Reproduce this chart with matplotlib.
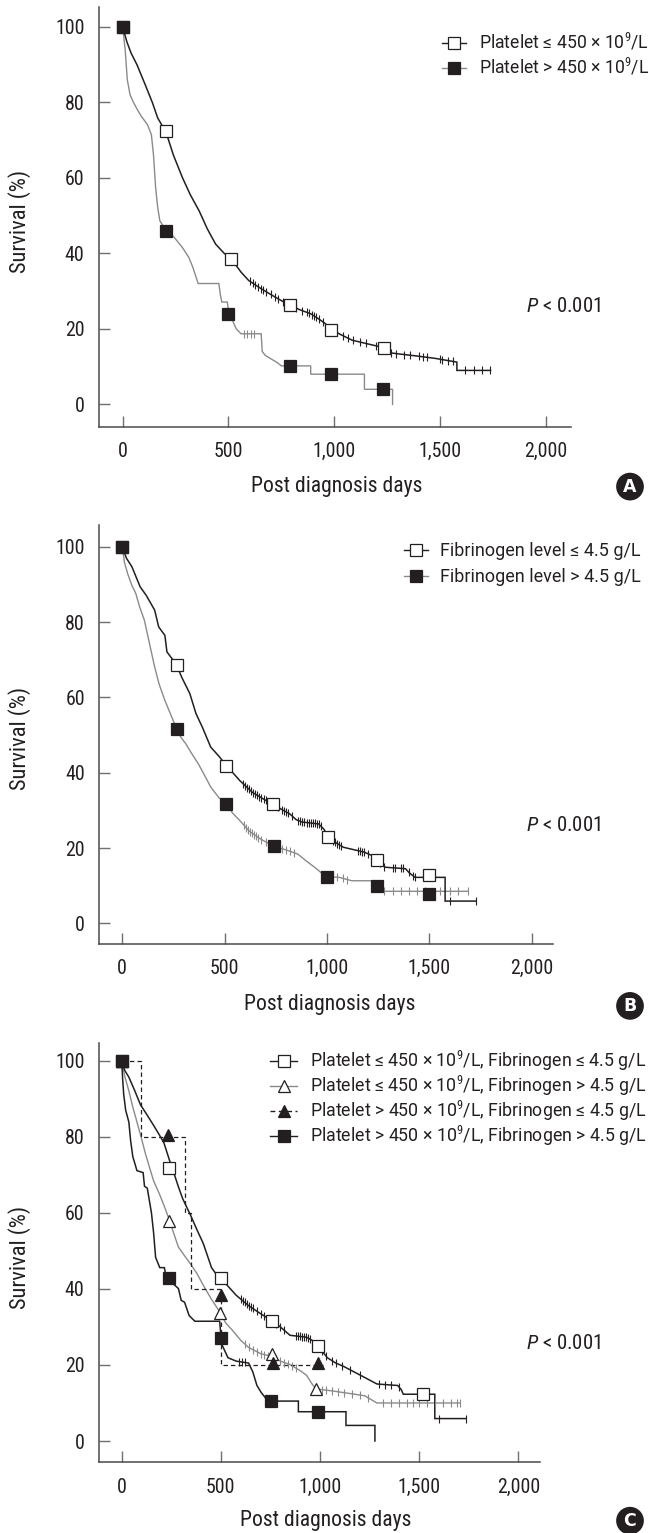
import os
import numpy as np
import matplotlib
matplotlib.use('Agg')
import matplotlib.pyplot as plt
from matplotlib import font_manager
from matplotlib.font_manager import FontProperties
from matplotlib.lines import Line2D

# ---------------- data ----------------
x_ticks = [0, 500, 1000, 1500, 2000]
x_ticklabels = ['0', '500', '1,000', '1,500', '2,000']
y_ticks = [0, 20, 40, 60, 80, 100]
y_ticklabels = ['0', '20', '40', '60', '80', '100']

# Panel A: platelet count
a_low_days = [0, 20, 40, 68, 107, 140, 166, 205, 240, 283, 320, 362, 400, 440, 480, 514, 560, 596,
              650, 694, 740, 791, 840, 889, 930, 958, 983, 1030, 1085, 1160, 1237, 1260, 1300, 1378,
              1476, 1580, 1580, 1739]
a_low_surv = [100, 96, 93, 89.9, 84.6, 80, 75.8, 72.1, 66, 60.0, 55.5, 51.2, 46.5, 42.4, 40.0, 38.5,
              35, 32.8, 30.8, 29.3, 27.8, 26.2, 25, 24.0, 22.5, 21.4, 20.0, 18.5, 17.0, 16.0, 15.0,
              13.7, 13.4, 12.9, 12.2, 11.2, 9.0, 9.0]
a_low_mk_days = [0, 205, 514, 791, 983, 1237]
a_low_mk_surv = [100, 72.3, 38.6, 26.3, 19.6, 15.0]
a_low_cens = [600, 615, 625, 640, 655, 665, 680, 700, 720, 735, 760, 800, 820, 850, 870, 880, 895,
              905, 915, 930, 945, 1010, 1040, 1065, 1090, 1120, 1150, 1200, 1270, 1290, 1330, 1360,
              1400, 1420, 1440, 1500, 1510, 1540, 1560, 1620, 1660, 1700, 1735]

a_high_days = [0, 12, 22, 35, 49, 70, 88, 117, 136, 146, 156, 166, 176, 200, 244, 283, 313, 332, 357,
               455, 462, 469, 495, 500, 515, 525, 537, 560, 655, 660, 674, 700, 733, 750, 889, 889,
               1143, 1143, 1276, 1276]
a_high_surv = [100, 94, 86, 82, 80.2, 78, 76.3, 74.1, 71.4, 66, 57.4, 52.1, 48.6, 46.5, 44.2, 41.5,
               38.9, 36.3, 32, 32, 29, 27.1, 27.1, 25, 23, 21.5, 20.0, 18.7, 18.7, 14, 13, 12.1, 11.0,
               10.2, 10.2, 8.0, 8.0, 4.0, 4.0, 0]
a_high_mk_days = [0, 207, 500, 790, 983, 1230]
a_high_mk_surv = [100, 46.0, 24.0, 10.3, 8.1, 4.1]
a_high_cens = [575, 590, 605, 620]

a_labels = ['Platelet ≤ 450 × 10$^9$/L', 'Platelet > 450 × 10$^9$/L']

# Panel B: fibrinogen level
b_low_days = [0, 20, 47, 87, 117, 158, 178, 208, 218, 240, 266, 290, 330, 360, 391, 432, 470, 509,
              574, 635, 690, 736, 780, 817, 850, 878, 959, 985, 1005, 1040, 1080, 1182, 1220, 1243,
              1283, 1384, 1400, 1430, 1577, 1577, 1729]
b_low_surv = [100, 97, 94.7, 89.4, 87.1, 83.2, 78.7, 76.5, 72.1, 70.5, 68.5, 65.4, 61.0, 55.7, 52.1,
              46.8, 44.5, 41.9, 37.9, 34.8, 33, 31.6, 30.2, 29.1, 27.5, 26.9, 26.4, 25, 23.0, 21.5,
              20.2, 18.9, 18, 16.9, 14.9, 14.5, 13.5, 12.2, 12.2, 5.9, 5.9]
b_low_mk_days = [0, 266, 509, 736, 1005, 1243, 1496]
b_low_mk_surv = [100, 68.5, 41.9, 31.6, 23.0, 16.9, 12.7]
b_low_cens = [590, 600, 610, 620, 630, 640, 650, 660, 670, 680, 690, 700, 760, 780, 790, 800, 810,
              830, 860, 870, 880, 890, 900, 910, 920, 930, 940, 950, 960, 970, 1030, 1040, 1050,
              1060, 1070, 1150, 1160, 1170, 1180, 1200, 1260, 1280, 1320, 1330, 1360, 1370, 1400,
              1420, 1430, 1600, 1729]

b_high_days = [0, 10, 26, 45, 66, 85, 108, 130, 158, 180, 208, 240, 265, 285, 310, 340, 371, 400,
               432, 470, 509, 540, 574, 620, 675, 742, 800, 857, 900, 939, 970, 1000, 1060, 1121,
               1240, 1263, 1688]
b_high_surv = [100, 96, 92.9, 90, 87.6, 84, 80.5, 75, 68.1, 63.5, 59.2, 55, 51.7, 49.5, 47.7, 45,
               42.4, 39.5, 36.2, 33.5, 31.6, 29.2, 27.3, 24.5, 22.4, 20.4, 19.5, 18.4, 16.5, 14.9,
               13.5, 12.4, 12.2, 11.3, 11.3, 8.5, 8.5]
b_high_mk_days = [0, 265, 509, 742, 1000, 1243, 1500]
b_high_mk_surv = [100, 51.7, 31.6, 20.4, 12.4, 10.0, 7.8]
b_high_cens = [595, 605, 615, 625, 635, 645, 655, 665, 680, 700, 720, 740, 760, 780, 800, 820, 840,
               1020, 1050, 1080, 1100, 1280, 1320, 1360, 1400, 1440, 1480, 1550, 1600, 1640, 1688]

b_labels = ['Fibrinogen level ≤ 4.5 g/L', 'Fibrinogen level > 4.5 g/L']

# Panel C: combined groups
c1_days = [0, 15, 36, 66, 95, 125, 161, 190, 213, 240, 265, 285, 307, 348, 380, 411, 453, 475, 500,
           540, 578, 640, 700, 759, 800, 849, 932, 960, 989, 1037, 1080, 1120, 1160, 1204, 1287,
           1392, 1410, 1420, 1579, 1579, 1736]
c1_surv = [100, 97.5, 95.7, 92.1, 88.4, 86, 83.0, 80.5, 78.4, 74, 70.2, 67, 63.8, 59.3, 55.5, 52.0,
           45.6, 44, 42.8, 40.5, 38.3, 35.6, 33.5, 31.6, 30, 27.8, 27.3, 26.5, 25.1, 21.9, 20.5,
           19.6, 18.5, 17.3, 15.0, 14.6, 13.5, 12.3, 12.3, 5.9, 5.9]
c1_mk_days = [0, 238, 500, 759, 989, 1517]
c1_mk_surv = [100, 71.9, 42.8, 31.6, 25.1, 12.3]
c1_cens = [600, 610, 620, 630, 640, 650, 660, 680, 700, 720, 780, 800, 820, 880, 890, 900, 910, 920,
           930, 940, 950, 1010, 1030, 1060, 1080, 1110, 1150, 1200, 1300, 1330, 1360, 1400, 1600,
           1736]

c2_days = [0, 15, 36, 55, 77, 100, 119, 140, 161, 190, 213, 238, 260, 286, 320, 348, 380, 411, 450,
           494, 525, 557, 600, 640, 700, 759, 800, 849, 900, 932, 960, 980, 1058, 1150, 1225, 1287,
           1705]
c2_surv = [100, 96, 92.1, 88, 83.9, 79.5, 75.7, 72, 68.4, 65, 62.0, 58.5, 55, 51.0, 48.5, 46.5, 44,
           41.0, 37.5, 34, 31, 29.2, 26.5, 24.6, 23, 22.2, 21, 20.1, 18.5, 17.3, 15, 13.7, 13.2,
           12.5, 11.9, 10.0, 10.0]
c2_mk_days = [0, 238, 494, 759, 980]
c2_mk_surv = [100, 57.9, 33.7, 22.8, 13.7]
c2_cens = [620, 640, 660, 680, 700, 720, 740, 760, 780, 800, 820, 840, 860, 880, 1010, 1030, 1060,
           1090, 1120, 1160, 1200, 1240, 1320, 1360, 1400, 1440, 1470, 1500, 1540, 1580, 1620, 1660,
           1690, 1705]

c3_days = [0, 95, 95, 317, 317, 348, 348, 500, 500, 1016]
c3_surv = [100, 100, 80, 80, 60, 60, 40, 40, 20, 20]
c3_mk_days = [0, 232, 500, 762, 989]
c3_mk_surv = [100, 80.6, 38.5, 20.6, 20.6]

c4_days = [0, 5, 10, 20, 36, 45, 56, 77, 108, 115, 129, 150, 161, 171, 192, 215, 225, 286, 300, 317,
           340, 369, 494, 504, 536, 578, 640, 661, 682, 703, 730, 755, 891, 891, 1131, 1131, 1277,
           1277]
c4_surv = [100, 95, 91.2, 87, 83.9, 79, 74.8, 71.1, 70.6, 67, 66.5, 60, 54.7, 48.3, 45.6, 45.6, 43,
           40.1, 37, 36.5, 33, 31.5, 31.5, 25.5, 21.9, 21.0, 20.5, 18.2, 14.6, 12.8, 11, 10.5, 10.5,
           7.7, 7.7, 4.1, 4.1, 0]
c4_mk_days = [0, 238, 500, 755, 989]
c4_mk_surv = [100, 42.8, 27.1, 10.5, 7.5]
c4_cens = [590, 605, 620]

c_labels = ['Platelet ≤ 450 × 10$^9$/L, Fibrinogen ≤ 4.5 g/L',
            'Platelet ≤ 450 × 10$^9$/L, Fibrinogen > 4.5 g/L',
            'Platelet > 450 × 10$^9$/L, Fibrinogen ≤ 4.5 g/L',
            'Platelet > 450 × 10$^9$/L, Fibrinogen > 4.5 g/L']

p_text = '$P$ < 0.001'
x_label = 'Post diagnosis days'
y_label = 'Survival (%)'

# ---------------- fonts ----------------
ttf = font_manager.fontManager.ttflist
FAM, STRETCH = None, 'normal'
file_prefs = ['liberationsansnarrow-regular', 'arialnarrow', 'robotocondensed-regular',
              'notosans-condensed.', 'notosans-condensedregular', 'opensans-condensed-regular',
              'opensans_condensed-regular', 'opensanscondensed-regular']
for pref in file_prefs:
    hit = [f for f in ttf if os.path.basename(f.fname).lower().startswith(pref)]
    if hit:
        f = hit[0]
        same = [g for g in ttf if g.name == f.name]
        FAM = f.name
        STRETCH = 'condensed' if any(str(g.stretch) == 'normal' for g in same) else 'normal'
        break
if FAM is None:
    FAM, STRETCH = 'DejaVu Sans', 'condensed'

LEG_FILE = None
for pref in ['roboto-regular.', 'liberationsans-regular.', 'opensans-regular.', 'notosans-regular.']:
    hit = [f.fname for f in ttf if os.path.basename(f.fname).lower().startswith(pref)]
    if hit:
        LEG_FILE = hit[0]
        break

plt.rcParams['font.family'] = [FAM, 'DejaVu Sans']
plt.rcParams['font.stretch'] = STRETCH
plt.rcParams['mathtext.fontset'] = 'custom'
plt.rcParams['mathtext.rm'] = FAM
plt.rcParams['mathtext.it'] = FAM + ':italic'

BLACK = '#231f20'
GRAY = '#8a8a8a'
SPINE = '#4a4a4a'
W, H = 649, 1533
fig = plt.figure(figsize=(W / 100, H / 100), dpi=100)

TICK_FS = 14.3
LAB_FS = 15.6
YLAB_FS = 16.2
P_FS = 15.0
LEGA_FS = 12.7
LEGB_FS = 13.0
LEGC_FS = 12.8


def leg_prop(size):
    if LEG_FILE:
        return FontProperties(fname=LEG_FILE, size=size)
    return FontProperties(family=['DejaVu Sans'], size=size)


def px_axes(x0, x1, ytop, ybot):
    return fig.add_axes([x0 / W, 1 - ybot / H, (x1 - x0) / W, (ybot - ytop) / H])


def style_axes(ax, xlim, ylim, xlab_xy, ylab_xy):
    ax.set_xlim(*xlim)
    ax.set_ylim(*ylim)
    for s in ('top', 'right'):
        ax.spines[s].set_visible(False)
    for s in ('left', 'bottom'):
        ax.spines[s].set_color(SPINE)
        ax.spines[s].set_linewidth(1.1)
    ax.set_xticks(x_ticks)
    ax.set_xticklabels(x_ticklabels)
    ax.set_yticks(y_ticks)
    ax.set_yticklabels(y_ticklabels)
    ax.tick_params(direction='in', length=8, width=1.0, color='#707070',
                   labelsize=TICK_FS, labelcolor=BLACK)
    ax.tick_params(axis='x', pad=11)
    ax.tick_params(axis='y', pad=10)
    ax.set_xlabel(x_label, fontsize=LAB_FS, color=BLACK)
    ax.set_ylabel(y_label, fontsize=YLAB_FS, color=BLACK)
    bb = ax.get_position()
    ax0, ax1 = bb.x0 * W, bb.x1 * W
    aytop, aybot = (1 - bb.y1) * H, (1 - bb.y0) * H
    ax.xaxis.set_label_coords((xlab_xy[0] - ax0) / (ax1 - ax0), (aybot - xlab_xy[1]) / (aybot - aytop))
    ax.xaxis.label.set_va('center')
    ax.yaxis.set_label_coords((ylab_xy[0] - ax0) / (ax1 - ax0), (aybot - ylab_xy[1]) / (aybot - aytop))
    ax.yaxis.label.set_va('center')


def curve(ax, days, surv, color, lw=1.0, ls='-'):
    ax.plot(days, surv, color=color, lw=lw, ls=ls, solid_joinstyle='miter', zorder=3)


def censor(ax, days, surv, cens, color):
    yv = np.interp(cens, days, surv)
    ax.plot(cens, yv, ls='none', marker='|', ms=5.5, mew=0.8, color=color, zorder=3)


def markers(ax, d, s, marker, face, edge, ms=8.5):
    ax.plot(d, s, ls='none', marker=marker, ms=ms, mfc=face, mec=edge, mew=0.9, zorder=5)


def handle(color, ls, marker, face, ms=8.5):
    return Line2D([], [], color=color, lw=1.0, ls=ls, marker=marker, ms=ms, mfc=face,
                  mec=BLACK, mew=0.9)


def legend(ax, handles, labels, x_px, top_px, fs, spacing, handle_px, pad_px):
    em = fs * 100 / 72
    leg = ax.legend(handles, labels, loc='upper left',
                    bbox_to_anchor=(x_px / W, 1 - top_px / H),
                    bbox_transform=fig.transFigure, frameon=False, prop=leg_prop(fs),
                    handlelength=handle_px / em, handletextpad=pad_px / em, borderpad=0,
                    borderaxespad=0, labelspacing=spacing, numpoints=1, handleheight=0.5)
    for t in leg.get_texts():
        t.set_color(BLACK)
    return leg


def panel_letter(x, y, letter):
    fig.text(x / W, 1 - y / H, letter, ha='center', va='center', color='white', fontsize=12.5,
             fontweight='bold', family='DejaVu Sans',
             bbox=dict(boxstyle='circle,pad=0.28', fc=BLACK, ec='none'))


def p_value(ax, x, y):
    ax.text(x / W, 1 - y / H, p_text, transform=fig.transFigure, fontsize=P_FS,
            color=BLACK, va='center', ha='left')


# ---------------- Panel A ----------------
axA = px_axes(98.5, 570.7, 7, 426.7)
style_axes(axA, (-114, 2118), (-5.9, 105.2), (337, 486.6), (19.3, 221))
curve(axA, a_high_days, a_high_surv, GRAY)
curve(axA, a_low_days, a_low_surv, BLACK, lw=1.1)
censor(axA, a_high_days, a_high_surv, a_high_cens, GRAY)
censor(axA, a_low_days, a_low_surv, a_low_cens, BLACK)
markers(axA, a_low_mk_days, a_low_mk_surv, 's', 'white', BLACK)
markers(axA, a_high_mk_days, a_high_mk_surv, 's', BLACK, BLACK)
legend(axA, [handle(BLACK, '-', 's', 'white'), handle(GRAY, '-', 's', BLACK)], a_labels,
       442, 31.5, LEGA_FS, 0.22, 24, 13)
p_value(axA, 525.9, 306.5)
panel_letter(630, 486.6, 'A')

# ---------------- Panel B ----------------
axB = px_axes(99, 552.7, 525, 944)
style_axes(axB, (-113.8, 2102.6), (-5.5, 105.8), (329.3, 1004.2), (19.3, 738.7))
curve(axB, b_high_days, b_high_surv, GRAY)
curve(axB, b_low_days, b_low_surv, BLACK, lw=1.1)
censor(axB, b_high_days, b_high_surv, b_high_cens, GRAY)
censor(axB, b_low_days, b_low_surv, b_low_cens, BLACK)
markers(axB, b_low_mk_days, b_low_mk_surv, 's', 'white', BLACK)
markers(axB, b_high_mk_days, b_high_mk_surv, 's', BLACK, BLACK)
legend(axB, [handle(BLACK, '-', 's', 'white'), handle(GRAY, '-', 's', BLACK)], b_labels,
       404, 541.6, LEGB_FS, 0.45, 24, 12)
p_value(axB, 525.9, 825.5)
panel_letter(630, 1005.9, 'B')

# ---------------- Panel C ----------------
axC = px_axes(98.5, 540, 1043.3, 1462.3)
style_axes(axC, (-117, 2109.5), (-5.6, 104.6), (325.2, 1520.7), (19.3, 1257.9))
curve(axC, c2_days, c2_surv, GRAY)
curve(axC, c4_days, c4_surv, BLACK, lw=1.1)
curve(axC, c3_days, c3_surv, BLACK, lw=0.9, ls=(0, (3.5, 2.5)))
curve(axC, c1_days, c1_surv, BLACK, lw=1.1)
censor(axC, c2_days, c2_surv, c2_cens, GRAY)
censor(axC, c1_days, c1_surv, c1_cens, BLACK)
censor(axC, c4_days, c4_surv, c4_cens, BLACK)
markers(axC, c2_mk_days, c2_mk_surv, '^', 'white', BLACK, ms=8)
markers(axC, c3_mk_days, c3_mk_surv, '^', BLACK, BLACK, ms=8)
markers(axC, c1_mk_days, c1_mk_surv, 's', 'white', BLACK)
markers(axC, c4_mk_days, c4_mk_surv, 's', BLACK, BLACK)
legend(axC, [handle(BLACK, '-', 's', 'white'), handle(GRAY, '-', '^', 'white', 8),
             handle(BLACK, (0, (3.5, 2.5)), '^', BLACK, 8), handle(BLACK, '-', 's', BLACK)],
       c_labels, 270, 1048.7, LEGC_FS, 0.045, 27, 13)
p_value(axC, 525.7, 1343.2)
panel_letter(630, 1520.7, 'C')

fig.savefig('out.png', dpi=100)
